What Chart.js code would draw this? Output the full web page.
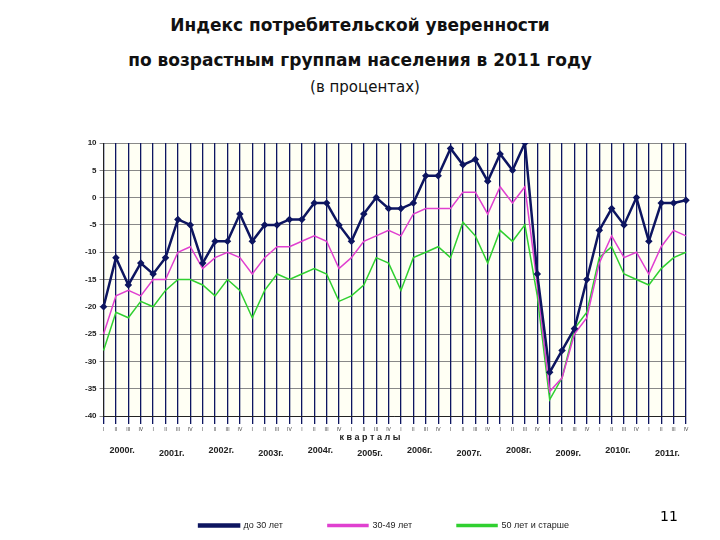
<!DOCTYPE html>
<html><head><meta charset="utf-8">
<script src="https://cdn.jsdelivr.net/npm/chart.js@4/dist/chart.umd.min.js"></script>
<style>
body{margin:0;width:720px;height:540px;background:#fff;font-family:"DejaVu Sans",sans-serif;position:relative;overflow:hidden}
.t{position:absolute;left:0;width:760px;text-align:center;font-weight:bold;font-size:17px;color:#111}
#box{position:absolute;left:60px;top:135px;width:650px;height:405px}
#num{position:absolute;left:660px;top:508px;font-size:14px}
</style></head><body>
<div class="t" style="top:15px;left:-20px">Индекс потребительской уверенности</div>
<div class="t" style="top:50px;left:-10px;width:740px">по возрастным группам населения  в 2011 году</div>
<div class="t" style="top:78px;left:-15px;font-weight:normal;font-size:15px">(в процентах)</div>
<div id="box"><canvas id="c" width="650" height="405"></canvas></div>
<div id="num">11</div>
<script>
const years=["2000г.","2001г.","2002г.","2003г.","2004г.","2005г.","2006г.","2007г.","2008г.","2009г.","2010г.","2011г."];
const quarters=["I","II","III","IV"];
const under30=[-20,-11,-16,-12,-14,-11,-4,-5,-12,-8,-8,-3,-8,-5,-5,-4,-4,-1,-1,-5,-8,-3,0,-2,-2,-1,4,4,9,6,7,3,8,5,10,-14,-32,-28,-24,-15,-6,-2,-5,0,-8,-1,-1,-0.5];
const age30_49=[-25,-18,-17,-18,-15,-15,-10,-9,-13,-11,-10,-11,-14,-11,-9,-9,-8,-7,-8,-13,-11,-8,-7,-6,-7,-3,-2,-2,-2,1,1,-3,2,-1,2,-16,-35.5,-33,-25,-22,-12,-7,-11,-10,-14,-9,-6,-7];
const over50=[-28,-21,-22,-19,-20,-17,-15,-15,-16,-18,-15,-17,-22,-17,-14,-15,-14,-13,-14,-19,-18,-16,-11,-12,-17,-11,-10,-9,-11,-4.5,-7,-12,-6,-8,-5,-18,-37,-33,-24,-21,-11,-9,-14,-15,-16,-13,-11,-10];
const labels=[];years.forEach(()=>quarters.forEach(q=>labels.push(q)));
const yearPlugin={id:'yr',afterDraw(ch){const c=ch.ctx,x=ch.scales.x,a=ch.chartArea;c.save();c.font='bold 9px "Liberation Sans"';c.fillStyle='#222';c.textAlign='center';
c.fillText('к в а р т а л ы',x.getPixelForValue(21.5),a.bottom+22);
years.forEach((y,i)=>{const px=x.getPixelForValue(i*4+1.5);c.fillText(y,px,a.bottom+35+(i%2?3:0));});c.restore();},
beforeDraw(ch){const a=ch.chartArea,c=ch.ctx;c.save();c.fillStyle='#fffff4';c.fillRect(a.left,a.top,a.width,a.height);c.restore();}};
new Chart(document.getElementById('c'),{type:'line',
data:{labels,datasets:[
{label:'до 30 лет',data:under30,borderColor:'#0d1560',backgroundColor:'#0d1560',borderWidth:2.5,pointStyle:'rectRot',pointRadius:2,tension:0},
{label:'30-49 лет',data:age30_49,borderColor:'#e040d0',backgroundColor:'#e040d0',borderWidth:1.5,pointRadius:0,tension:0},
{label:'50 лет и старше',data:over50,borderColor:'#30d030',backgroundColor:'#30d030',borderWidth:1.5,pointRadius:0,tension:0}]},
options:{responsive:false,animation:false,layout:{padding:{left:22,right:24,top:8,bottom:0}},
plugins:{legend:{position:'bottom',labels:{boxWidth:40,boxHeight:2,font:{size:9,family:'Liberation Sans'},color:'#222',padding:45}},tooltip:{enabled:false}},
scales:{y:{min:-40,max:10,ticks:{stepSize:5,font:{size:8,weight:'bold',family:'Liberation Sans'},color:'#222'},grid:{color:'#888',tickLength:4},border:{color:'#222'}},
x:{offset:false,afterFit(s){s.height=60;},ticks:{autoSkip:false,maxRotation:0,font:{size:5},color:'#444'},grid:{color:'#0d1560',lineWidth:1.3},border:{color:'#222'}}}},
plugins:[yearPlugin]});
</script></body></html>
